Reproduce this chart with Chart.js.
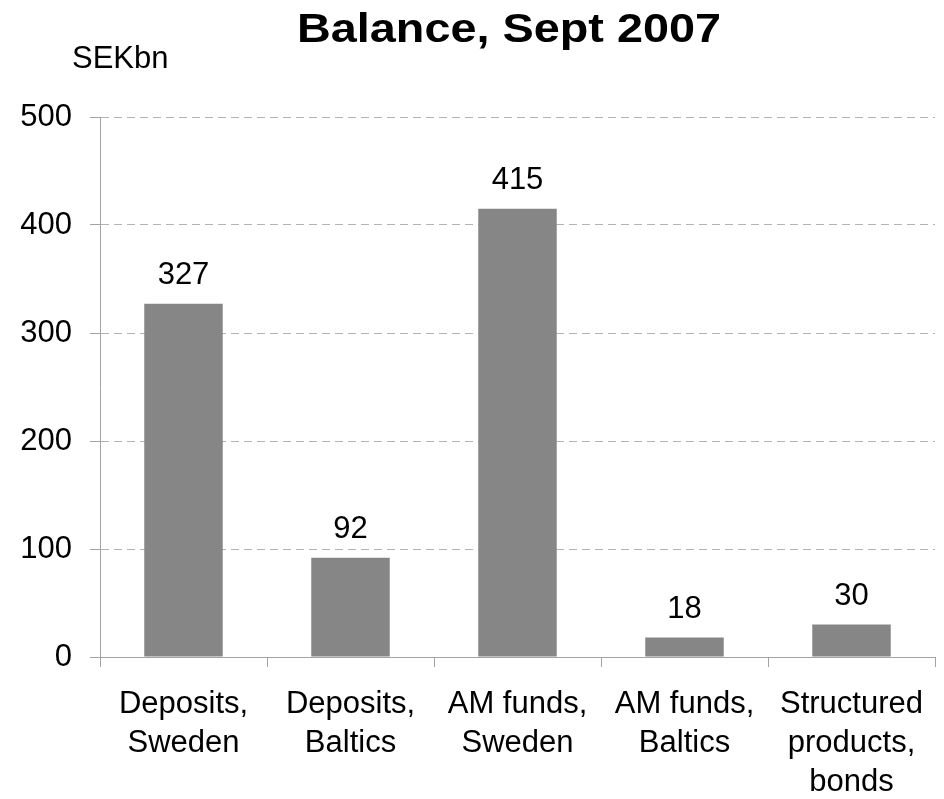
<!DOCTYPE html>
<html>
<head>
<meta charset="utf-8">
<script src="https://cdn.jsdelivr.net/npm/chart.js@4.4.0/dist/chart.umd.min.js"></script>
<style>
  html, body { margin: 0; padding: 0; background: #fff; }
  #wrap { width: 944px; height: 799px; position: relative; }
</style>
</head>
<body>
<div id="wrap"><canvas id="balance"></canvas></div>
<script>
const categories = [
  ['Deposits,', 'Sweden'],
  ['Deposits,', 'Baltics'],
  ['AM funds,', 'Sweden'],
  ['AM funds,', 'Baltics'],
  ['Structured', 'products,', 'bonds'],
];
const balances = [327, 92, 415, 18, 30];
const yTicks = [0, 100, 200, 300, 400, 500];

const titleText = 'Balance, Sept 2007';
const unitText = 'SEKbn';

const FONT = '"Liberation Sans", Arial, sans-serif';
const AXIS_GREY = '#a3a3a3';

// title, unit caption and value labels over each bar
const annotations = {
  id: 'annotations',
  afterDatasetsDraw(chart) {
    const { ctx } = chart;
    ctx.save();
    ctx.fillStyle = '#000';

    // title is a little stretched horizontally, as on the slide
    ctx.font = `bold 40px ${FONT}`;
    ctx.textAlign = 'center';
    ctx.textBaseline = 'alphabetic';
    ctx.save();
    ctx.translate(509, 42);
    ctx.scale(1.17, 1);
    ctx.fillText(titleText, 0, 0);
    ctx.restore();

    ctx.font = `31px ${FONT}`;
    ctx.textAlign = 'left';
    ctx.fillText(unitText, 72, 68);

    ctx.textAlign = 'center';
    const meta = chart.getDatasetMeta(0);
    meta.data.forEach((bar, i) => {
      ctx.fillText(String(balances[i]), bar.x, bar.y - 20);
    });
    ctx.restore();
  },
};

new Chart(document.getElementById('balance'), {
  type: 'bar',
  data: {
    labels: categories,
    datasets: [{
      data: balances,
      backgroundColor: '#868686',
      borderWidth: 0,
      barPercentage: 0.47,
      categoryPercentage: 1,
    }],
  },
  options: {
    responsive: true,
    maintainAspectRatio: false,
    animation: false,
    layout: { padding: { top: 117, right: 9, bottom: 0, left: 0 } },
    plugins: {
      legend: { display: false },
      title: { display: false },
      tooltip: { enabled: false },
    },
    scales: {
      x: {
        offset: true,
        grid: {
          offset: true,
          drawOnChartArea: false,
          drawTicks: true,
          tickLength: 10,
          tickColor: AXIS_GREY,
          tickWidth: 1,
        },
        border: { display: true, color: AXIS_GREY, width: 1 },
        ticks: {
          color: '#000',
          padding: 18,
          maxRotation: 0,
          autoSkip: false,
          font: { family: FONT, size: 31, lineHeight: 1.26 },
        },
        afterFit(scale) { scale.height = 142; },
      },
      y: {
        min: 0,
        max: 500,
        afterBuildTicks(scale) {
          scale.ticks = yTicks.map((v) => ({ value: v }));
        },
        grid: {
          color: '#b3b3b3',
          lineWidth: 1,
          drawTicks: true,
          tickLength: 10,
          tickColor: AXIS_GREY,
          tickBorderDash: [],
        },
        border: { display: true, color: AXIS_GREY, width: 1, dash: [8, 5] },
        ticks: {
          color: '#000',
          padding: 18,
          font: { family: FONT, size: 31 },
        },
        afterFit(scale) { scale.width = 100; },
      },
    },
  },
  plugins: [annotations],
});
</script>
</body>
</html>
